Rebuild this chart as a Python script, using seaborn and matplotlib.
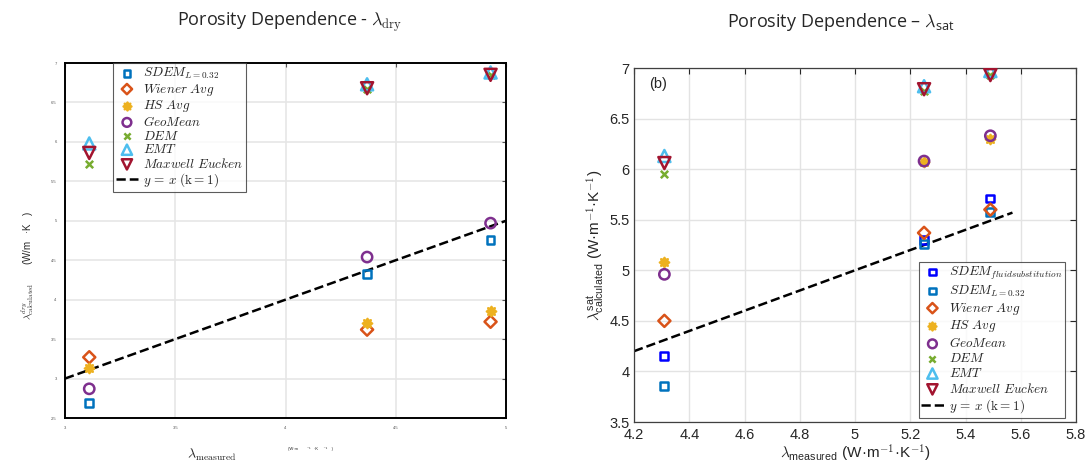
import matplotlib
matplotlib.use('Agg')
import matplotlib.pyplot as plt
import matplotlib.ticker as mticker
import seaborn as sns

# ---- data ----
dry_measured = [3.11, 4.37, 4.93]
dry_sdem_l = [2.69, 4.33, 4.76]
dry_wiener = [3.27, 3.62, 3.72]
dry_hs = [3.13, 3.71, 3.85]
dry_geomean = [2.87, 4.54, 4.97]
dry_dem = [5.72, 6.67, 6.85]
dry_emt = [5.98, 6.73, 6.88]
dry_maxwell = [5.86, 6.68, 6.85]

sat_measured = [4.31, 5.25, 5.49]
sat_sdem_fluid = [4.15, 5.30, 5.71]
sat_sdem_l = [3.86, 5.26, 5.58]
sat_wiener = [4.50, 5.37, 5.60]
sat_hs = [5.08, 6.07, 6.30]
sat_geomean = [4.96, 6.08, 6.33]
sat_dem = [5.95, 6.77, 6.93]
sat_emt = [6.13, 6.82, 6.97]
sat_maxwell = [6.06, 6.79, 6.93]

dry_line = [3.0, 5.0]
sat_line = [4.2, 5.57]

sns.set_style('white')
plt.rcParams['font.family'] = ['Liberation Sans', 'DejaVu Sans']
plt.rcParams['mathtext.fontset'] = 'cm'

# (label, marker, colour, filled, size)
styles = {
    'fluid': (r'$SDEM_{fluidsubstitution}$', 's', '#0000FF', False, 32),
    'sdem': (r'$SDEM_{L=0.32}$', 's', '#0072BD', False, 32),
    'wiener': (r'$Wiener\ Avg$', 'D', '#D95319', False, 38),
    'hs': (r'$HS\ Avg$', (8, 1, 0), '#EDB120', True, 45),
    'geo': (r'$GeoMean$', 'o', '#7E2F8E', False, 55),
    'dem': (r'$DEM$', 'x', '#77AC30', True, 28),
    'emt': (r'$EMT$', '^', '#4DBEEE', False, 75),
    'maxwell': (r'$Maxwell\ Eucken$', 'v', '#A2142F', False, 75),
}


def draw(ax, x, y, key):
    label, marker, c, filled, s = styles[key]
    if filled:
        sns.scatterplot(x=x, y=y, ax=ax, marker=marker, s=s, color=c,
                        edgecolor=c, linewidth=1.8, label=label, zorder=3)
    else:
        sns.scatterplot(x=x, y=y, ax=ax, marker=marker, s=s, facecolor='none',
                        edgecolor=c, linewidth=1.8, label=label, zorder=3)


line_label = r'$y\, =\, x\ (\mathrm{k{=}1})$'
leg_kw = dict(borderaxespad=0, fontsize=9.5, frameon=True, fancybox=False,
              edgecolor='#333333', handletextpad=0.4, borderpad=0.2,
              handlelength=1.7, markerscale=0.85)

fig = plt.figure(figsize=(10.86, 4.73), dpi=100)
ax1 = fig.add_axes([65 / 1086, 1 - 418 / 473, 441 / 1086, 355 / 473])
ax2 = fig.add_axes([634 / 1086, 1 - 422 / 473, 442 / 1086, 354 / 473])

# ---- left panel (dry) ----
draw(ax1, dry_measured, dry_sdem_l, 'sdem')
draw(ax1, dry_measured, dry_wiener, 'wiener')
draw(ax1, dry_measured, dry_hs, 'hs')
draw(ax1, dry_measured, dry_geomean, 'geo')
draw(ax1, dry_measured, dry_dem, 'dem')
draw(ax1, dry_measured, dry_emt, 'emt')
draw(ax1, dry_measured, dry_maxwell, 'maxwell')
sns.lineplot(x=dry_line, y=dry_line, ax=ax1, color='black', linestyle='--',
             linewidth=1.8, dashes=(3, 2.5), label=line_label, zorder=2)
ax1.set_xlim(3, 5)
ax1.set_ylim(2.5, 7)
ax1.set_xticks([3, 3.5, 4, 4.5, 5])
ax1.set_yticks([2.5, 3, 3.5, 4, 4.5, 5, 5.5, 6, 6.5, 7])
ax1.xaxis.set_major_formatter(mticker.FormatStrFormatter('%g'))
ax1.yaxis.set_major_formatter(mticker.FormatStrFormatter('%g'))
ax1.tick_params(labelsize=3, colors='#555555', direction='in', length=3,
                top=True, right=True, pad=6)
ax1.grid(True, color='#e6e6e6', linewidth=1.2)
for sp in ax1.spines.values():
    sp.set_color('black')
    sp.set_linewidth(1.4)
ax1.set_xlabel('')
ax1.set_ylabel('')
ax1.legend(loc='upper left', bbox_to_anchor=(0.109, 1.0), labelspacing=0.05,
           **leg_kw).get_frame().set_linewidth(0.8)
fig.text(212 / 1086, 1 - 455 / 473, r'$\lambda_{\rm measured}$', fontsize=10,
         ha='center', va='center')
fig.text(310 / 1086, 1 - 449 / 473, '(W·m        ⁻¹   ·K     ⁻¹    )', fontsize=3,
         ha='center', va='center')
fig.text(28 / 1086, 1 - 265 / 473, r'$\lambda^{dry}_{\rm calculated}$       (W/m   ·K   )',
         fontsize=7, rotation=90, ha='center', va='center')

# ---- right panel (saturated) ----
draw(ax2, sat_measured, sat_sdem_fluid, 'fluid')
draw(ax2, sat_measured, sat_sdem_l, 'sdem')
draw(ax2, sat_measured, sat_wiener, 'wiener')
draw(ax2, sat_measured, sat_hs, 'hs')
draw(ax2, sat_measured, sat_geomean, 'geo')
draw(ax2, sat_measured, sat_dem, 'dem')
draw(ax2, sat_measured, sat_emt, 'emt')
draw(ax2, sat_measured, sat_maxwell, 'maxwell')
sns.lineplot(x=sat_line, y=sat_line, ax=ax2, color='black', linestyle='--',
             linewidth=1.8, dashes=(3, 2.5), label=line_label, zorder=2)
ax2.set_xlim(4.2, 5.8)
ax2.set_ylim(3.5, 7)
ax2.set_xticks([4.2, 4.4, 4.6, 4.8, 5, 5.2, 5.4, 5.6, 5.8])
ax2.set_yticks([3.5, 4, 4.5, 5, 5.5, 6, 6.5, 7])
ax2.xaxis.set_major_formatter(mticker.FormatStrFormatter('%g'))
ax2.yaxis.set_major_formatter(mticker.FormatStrFormatter('%g'))
ax2.tick_params(labelsize=10.5, colors='#262626', direction='in', length=4,
                top=True, right=True)
ax2.tick_params(axis='x', pad=4)
ax2.tick_params(axis='y', pad=3)
ax2.grid(True, color='#e3e3e3', linewidth=1.0)
for sp in ax2.spines.values():
    sp.set_color('#404040')
    sp.set_linewidth(0.9)
ax2.set_xlabel(r'$\lambda_{\mathregular{measured}}$ (W·m$^{-1}$·K$^{-1}$)', fontsize=11,
               labelpad=1)
ax2.set_ylabel(r'$\lambda^{\mathregular{sat}}_{\mathregular{calculated}}$ (W·m$^{-1}$·K$^{-1}$)',
               fontsize=11, labelpad=2)
ax2.text(0.035, 0.975, '(b)', transform=ax2.transAxes, fontsize=10.5,
         ha='left', va='top')
ax2.legend(loc='lower right', bbox_to_anchor=(0.975, 0.011), labelspacing=0.14,
           **leg_kw).get_frame().set_linewidth(0.8)

# ---- titles ----
fig.text(290 / 1086, 1 - 22 / 473, r'Porosity Dependence - $\lambda_{\rm dry}$',
         fontsize=13, family=['Open Sans', 'DejaVu Sans'], ha='center', va='center')
fig.text(841 / 1086, 1 - 22 / 473, r'Porosity Dependence – $\lambda_{\mathregular{sat}}$',
         fontsize=13, family=['Open Sans', 'DejaVu Sans'], ha='center', va='center')

fig.savefig('out.png', dpi=100)
